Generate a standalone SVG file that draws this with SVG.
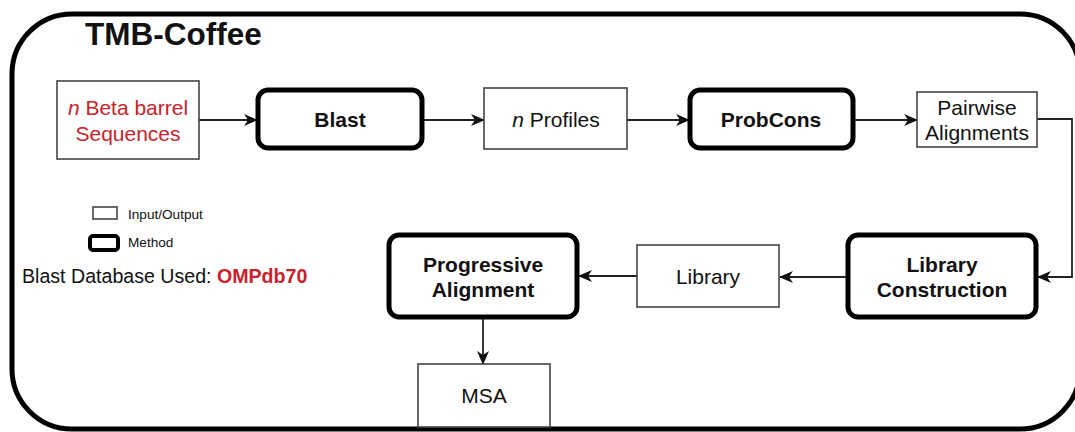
<svg xmlns="http://www.w3.org/2000/svg" width="1075" height="432" viewBox="0 0 1075 432">
  <defs>
    <marker id="arrow" viewBox="0 0 14 12" refX="13" refY="6" markerWidth="14" markerHeight="12" markerUnits="userSpaceOnUse" orient="auto">
      <path d="M0,0 L14,6 L0,12 L4,6 Z" fill="#111"/>
    </marker>
    <style>
      text { font-family: "Liberation Sans", Arial, sans-serif; fill: #111; }
      .io { fill: #fff; stroke: #444; stroke-width: 1.6; }
      .method { fill: #fff; stroke: #000; stroke-width: 5; }
      .lbl { font-size: 21px; text-anchor: middle; }
      .bold { font-weight: bold; }
      .red { fill: #c9222b; }
      .conn { fill: none; stroke: #222; stroke-width: 1.8; marker-end: url(#arrow); }
    </style>
  </defs>

  <rect width="1075" height="432" fill="#fff"/>

  <!-- outer frame -->
  <rect x="12" y="14" width="1068" height="415" rx="60" ry="60" fill="none" stroke="#000" stroke-width="5"/>
  <text x="85" y="45" font-size="31.5" class="bold">TMB-Coffee</text>

  <!-- legend -->
  <g id="legend">
    <rect x="93" y="207" width="24" height="12" class="io" stroke-width="1.3"/>
    <text x="128" y="219" font-size="13.6">Input/Output</text>
    <rect x="90" y="236" width="28" height="14" rx="3" fill="#fff" stroke="#000" stroke-width="4"/>
    <text x="128" y="247" font-size="13.6">Method</text>
    <text x="22" y="283" font-size="19.6">Blast Database Used: <tspan class="bold red">OMPdb70</tspan></text>
  </g>

  <!-- connectors -->
  <g id="connectors">
    <line x1="199" y1="120" x2="257" y2="120" class="conn"/>
    <line x1="423" y1="120" x2="484" y2="120" class="conn"/>
    <line x1="627" y1="120" x2="689" y2="120" class="conn"/>
    <line x1="854" y1="120" x2="917" y2="120" class="conn"/>
    <polyline points="1037,119 1072,119 1072,277 1038,277" class="conn"/>
    <line x1="847" y1="277" x2="780" y2="277" class="conn"/>
    <line x1="637" y1="276" x2="579" y2="276" class="conn"/>
    <line x1="483" y1="318" x2="483" y2="364" class="conn"/>
  </g>

  <!-- nodes -->
  <g id="sequences">
    <rect x="57" y="81" width="142" height="78" class="io"/>
    <text x="128" y="115" class="lbl red"><tspan font-style="italic">n</tspan> Beta barrel</text>
    <text x="128" y="141" class="lbl red">Sequences</text>
  </g>

  <g id="blast">
    <rect x="258" y="90" width="164" height="58" rx="10" class="method"/>
    <text x="340" y="127" class="lbl bold">Blast</text>
  </g>

  <g id="profiles">
    <rect x="484" y="88" width="143" height="61" class="io"/>
    <text x="556" y="127" class="lbl"><tspan font-style="italic">n</tspan> Profiles</text>
  </g>

  <g id="probcons">
    <rect x="690" y="90" width="163" height="58" rx="10" class="method"/>
    <text x="771" y="127" class="lbl bold">ProbCons</text>
  </g>

  <g id="pairwise">
    <rect x="917" y="92" width="120" height="55" class="io"/>
    <text x="977" y="115" class="lbl">Pairwise</text>
    <text x="977" y="140" class="lbl">Alignments</text>
  </g>

  <g id="library-construction">
    <rect x="848" y="235" width="188" height="82" rx="10" class="method"/>
    <text x="942" y="272" class="lbl bold">Library</text>
    <text x="942" y="297" class="lbl bold">Construction</text>
  </g>

  <g id="library">
    <rect x="637" y="245" width="142" height="62" class="io"/>
    <text x="708" y="284" class="lbl">Library</text>
  </g>

  <g id="progressive-alignment">
    <rect x="389" y="235" width="188" height="82" rx="10" class="method"/>
    <text x="483" y="272" class="lbl bold">Progressive</text>
    <text x="483" y="297" class="lbl bold">Alignment</text>
  </g>

  <g id="msa">
    <rect x="418" y="364" width="132" height="63" class="io"/>
    <text x="484" y="403" class="lbl">MSA</text>
  </g>
</svg>
